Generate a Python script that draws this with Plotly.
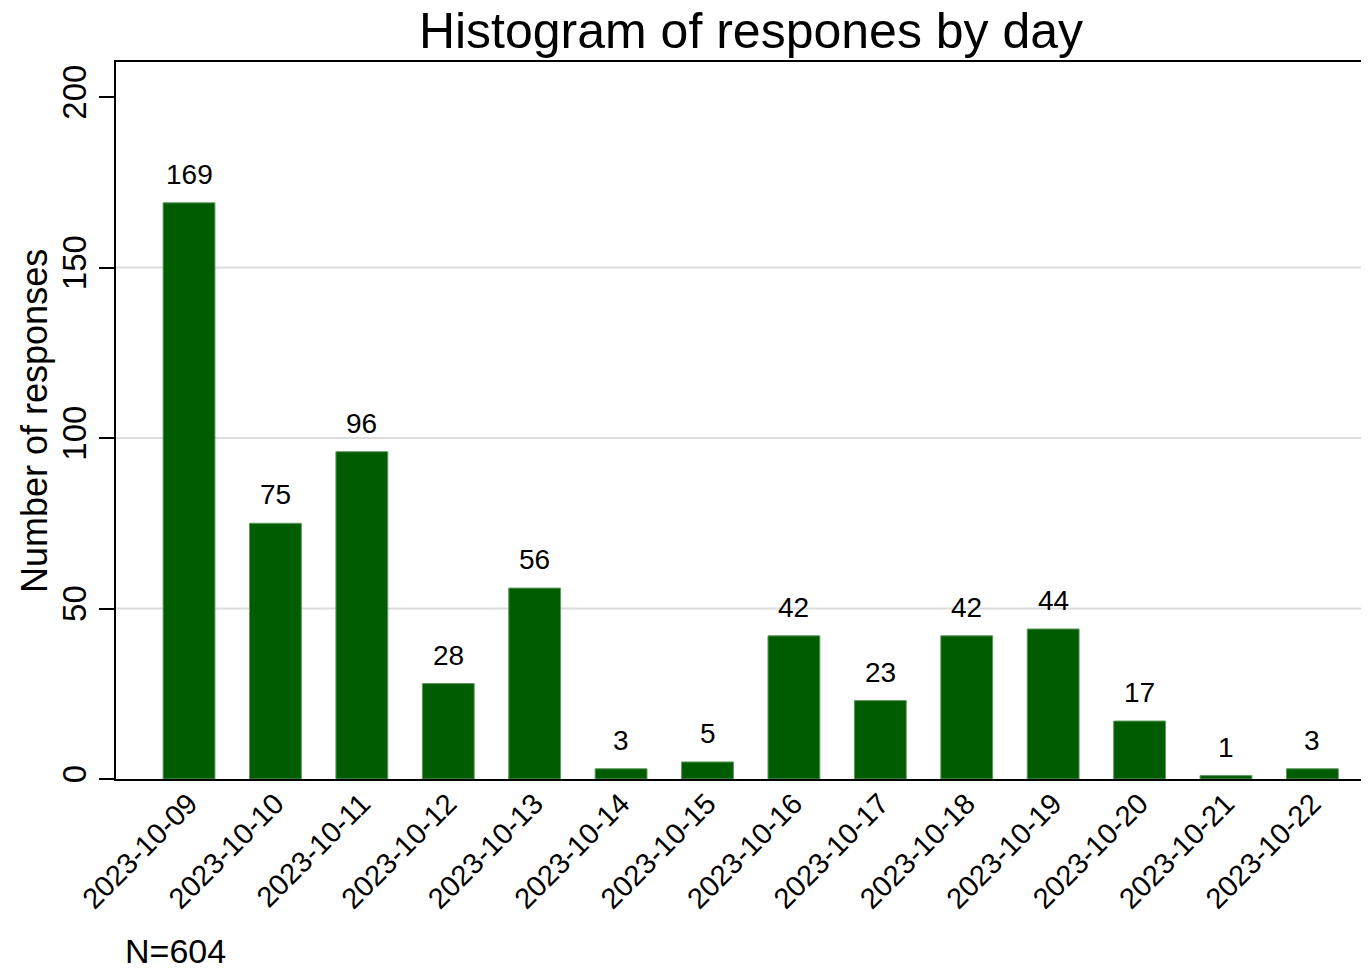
import plotly.graph_objects as go

days = ["2023-10-09", "2023-10-10", "2023-10-11", "2023-10-12", "2023-10-13",
        "2023-10-14", "2023-10-15", "2023-10-16", "2023-10-17", "2023-10-18",
        "2023-10-19", "2023-10-20", "2023-10-21", "2023-10-22"]
counts = [169, 75, 96, 28, 56, 3, 5, 42, 23, 42, 44, 17, 1, 3]
y_ticks = [0, 50, 100, 150, 200]
grid_vals = [50, 100, 150]
n_total = 604

FONT = "Arial, Liberation Sans, sans-serif"
W, H = 1361, 961
L, T, B = 108, 54, 190
PW = W - L
PH = H - T - B

fig = go.Figure()
fig.add_trace(go.Bar(
    x=days, y=counts,
    marker=dict(color="#005c00", line=dict(color="#5f9a5f", width=1)),
    showlegend=False,
))

annotations = []
for d, c in zip(days, counts):
    annotations.append(dict(
        x=d, y=c, xref="x", yref="y", text=str(c), showarrow=False,
        yanchor="bottom", yshift=11, font=dict(family=FONT, size=28, color="black"),
    ))
annotations.append(dict(
    x=(123 - 8 - L) / PW, y=(T + PH - (951 - 8)) / PH, xref="paper", yref="paper",
    text="N=%d" % n_total,
    showarrow=False, xanchor="left", yanchor="middle",
    font=dict(family=FONT, size=34, color="black"),
))
annotations.append(dict(
    x=(35 - 8 - L) / PW, y=(T + PH - (421 - 8)) / PH, xref="paper", yref="paper",
    text="Number of responses", textangle=-90,
    showarrow=False, xanchor="center", yanchor="middle",
    font=dict(family=FONT, size=36, color="black"),
))

shapes = []
for g in grid_vals:
    shapes.append(dict(type="line", xref="paper", yref="y", x0=0, x1=1, y0=g, y1=g,
                       line=dict(color="#dcdcdc", width=2), layer="below"))

fig.update_layout(
    width=W, height=H,
    margin=dict(l=L, r=0, t=T, b=B),
    paper_bgcolor="white", plot_bgcolor="white",
    bargap=0.4,
    title=dict(text="Histogram of respones by day", x=(751 - 8) / W,
               xanchor="center", y=1 - 22 / H, yanchor="middle", yref="container",
               font=dict(family=FONT, size=50, color="black")),
    font=dict(family=FONT, color="black"),
    annotations=annotations,
    shapes=shapes,
)
fig.update_xaxes(
    type="category",
    range=[-0.845, 13.655], showline=True, linecolor="black", linewidth=2, mirror=True,
    ticks="", tickangle=-45, tickfont=dict(family=FONT, size=29, color="black"),
    ticklabelstandoff=-6,
    showgrid=False, zeroline=False, automargin=False,
)
fig.update_yaxes(
    range=[0, 210.3], tickvals=y_ticks, ticktext=[str(v) for v in y_ticks],
    showline=True, linecolor="black", linewidth=2, mirror=False,
    ticks="outside", ticklen=15, tickwidth=2, tickcolor="black",
    tickangle=-90, tickfont=dict(family=FONT, size=33, color="black"),
    showgrid=False, zeroline=False, automargin=False,
)

fig.write_html("out.html")
